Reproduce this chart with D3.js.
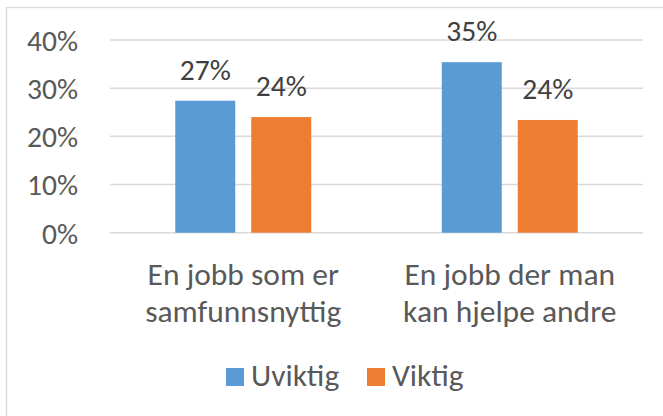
<!DOCTYPE html>
<html><head><meta charset="utf-8">
<script src="https://cdn.jsdelivr.net/npm/d3@7"></script>
<style>html,body{margin:0;padding:0;background:#fff;overflow:hidden}</style>
</head><body>
<svg id="chart" width="663" height="416"></svg>
<script>
const categories = [["En jobb som er", "samfunnsnyttig"], ["En jobb der man", "kan hjelpe andre"]];
const seriesNames = ["Uviktig", "Viktig"];
const uviktig = [0.274, 0.354];
const viktig = [0.240, 0.234];
const labelsUviktig = ["27%", "35%"];
const labelsViktig = ["24%", "24%"];
const yTicks = [0, 0.1, 0.2, 0.3, 0.4];
const colors = ["#5B9BD5", "#ED7D31"];

const FONT = "Carlito, Calibri, Lato, 'Liberation Sans', Arial, sans-serif";
const FS_NUM = 29.5;
const FS_TXT = 31.5;
const TXT = "#595959";

const svg = d3.select("#chart");
svg.append("rect").attr("x", 6.5).attr("y", 7.5).attr("width", 720).attr("height", 460)
  .attr("fill", "#fff").attr("stroke", "#d9d9d9").attr("stroke-width", 1.3);

const catKeys = categories.map(c => c.join(" "));
const x = d3.scaleBand().domain(catKeys).range([110, 643]);
const x1 = d3.scaleBand().domain(seriesNames).range([0, x.bandwidth()]).paddingInner(0.2105).paddingOuter(0.859);
const y = d3.scaleLinear().domain([0, 0.4]).range([232.7, 40]);

// gridlines
svg.append("g").selectAll("line").data(yTicks).join("line")
  .attr("x1", 110).attr("x2", 643)
  .attr("y1", d => y(d)).attr("y2", d => y(d))
  .attr("stroke", "#d9d9d9").attr("stroke-width", 1.5);

// y labels
const yAxis = d3.axisLeft(y).tickValues(yTicks).tickFormat(d3.format(".0%")).tickSize(0).tickPadding(0);
const ya = svg.append("g").attr("transform", "translate(78,0)").call(yAxis);
ya.select(".domain").remove();
ya.selectAll("text").attr("font-family", FONT).attr("font-size", FS_NUM).attr("fill", TXT).attr("dy", "0.35em");

const series = [uviktig, viktig];
const labels = [labelsUviktig, labelsViktig];
series.forEach((vals, si) => {
  const g = svg.append("g");
  g.selectAll("rect").data(vals).join("rect")
    .attr("x", (d, i) => x(catKeys[i]) + x1(seriesNames[si]))
    .attr("width", x1.bandwidth())
    .attr("y", d => y(d))
    .attr("height", d => y(0) - y(d))
    .attr("fill", colors[si]);
  g.selectAll("text").data(vals).join("text")
    .attr("x", (d, i) => x(catKeys[i]) + x1(seriesNames[si]) + x1.bandwidth() / 2)
    .attr("y", d => y(d) - 21)
    .attr("text-anchor", "middle")
    .attr("font-family", FONT).attr("font-size", FS_NUM).attr("fill", "#404040")
    .text((d, i) => labels[si][i]);
});

// category labels
const cg = svg.append("g");
categories.forEach((lines, i) => {
  const t = cg.append("text").attr("text-anchor", "middle")
    .attr("font-family", FONT).attr("font-size", FS_TXT).attr("fill", TXT);
  lines.forEach((ln, j) => {
    t.append("tspan").attr("x", x(catKeys[i]) + x.bandwidth() / 2).attr("y", 284.5 + j * 37.5).text(ln);
  });
});

// legend
const lg = svg.append("g");
const legX = [226, 367];
seriesNames.forEach((s, i) => {
  lg.append("rect").attr("x", legX[i]).attr("y", 368).attr("width", 18).attr("height", 18).attr("fill", colors[i]);
  lg.append("text").attr("x", legX[i] + 25).attr("y", 386)
    .attr("font-family", FONT).attr("font-size", FS_TXT).attr("fill", TXT).text(s);
});
</script>
</body></html>
